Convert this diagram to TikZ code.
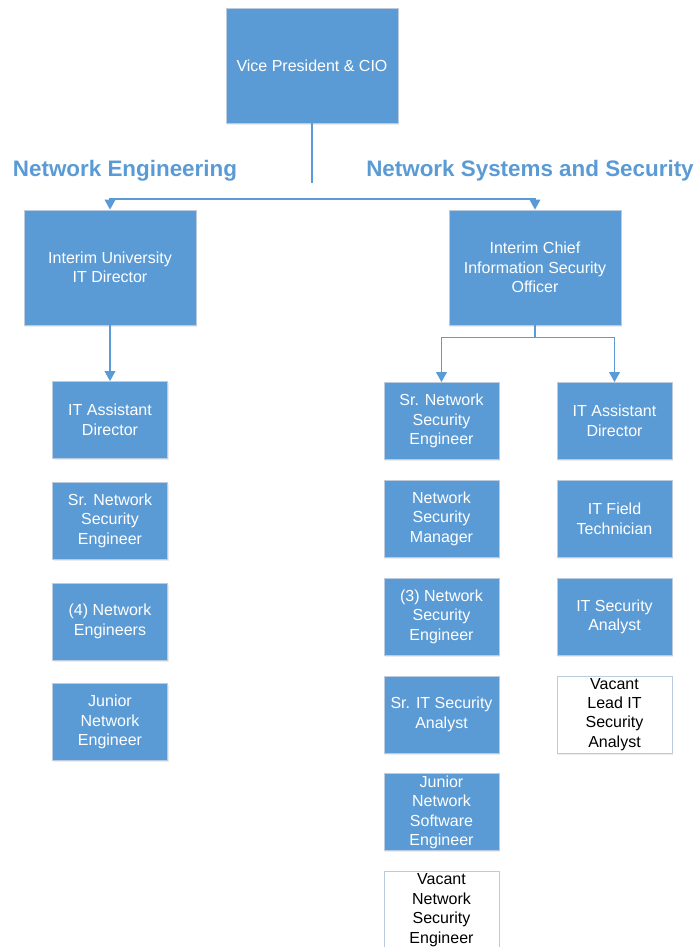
\documentclass[tikz,border=0pt]{standalone}
\usepackage{fontspec}
\setmainfont{Liberation Sans}
\usetikzlibrary{arrows.meta,positioning,shadows}
\definecolor{orgblue}{RGB}{91,155,213}
\definecolor{orgedge}{RGB}{188,203,222}

\begin{document}
\begin{tikzpicture}[x=0.75pt, y=-0.75pt,
    role/.style={rectangle, draw=orgedge, fill=orgblue, text=white, line width=0.6pt,
        minimum width=86.25pt, minimum height=57.75pt, inner sep=1pt,
        align=center, font=\fontsize{12}{14.6}\selectfont,
        drop shadow={opacity=0.15, shadow xshift=1pt, shadow yshift=-1.2pt}},
    head/.style={role, minimum width=129pt, minimum height=86.25pt},
    vacant/.style={role, fill=white, text=black},
    section/.style={text=orgblue, font=\fontsize{16.8}{20}\selectfont\bfseries},
    arrow/.style={-{Triangle[length=7.5pt, width=8pt]}, line width=1.1pt, draw=orgblue},
    link/.style={line width=1.1pt, draw=orgblue}]
\fill[white] (0,0) rectangle (699,947);
\clip (0,0) rectangle (699,947);

\node[head] (vp)    at (312,65.5)  {Vice President \& CIO};
\node[section] (neteng) at (125,171) {Network Engineering};
\node[section] (netsys) at (530,171) {Network Systems and Security};
\node[head] (itdir) at (110,267.5) {Interim University\\IT Director};
\node[head] (ciso)  at (535,267.5) {Interim Chief\\Information Security\\Officer};

% network engineering column
\node[role] (ne1) at (110,420) {IT Assistant\\Director};
\node[role, below=17.2pt of ne1] (ne2) {Sr. Network\\Security\\Engineer};
\node[role, below=17.2pt of ne2] (ne3) {(4) Network\\Engineers};
\node[role, below=17.2pt of ne3] (ne4) {Junior\\Network\\Engineer};

% network security column
\node[role] (ns1) at (441.5,421) {Sr. Network\\Security\\Engineer};
\node[role, below=15pt of ns1] (ns2) {Network\\Security\\Manager};
\node[role, below=15pt of ns2] (ns3) {(3) Network\\Security\\Engineer};
\node[role, below=15pt of ns3] (ns4) {Sr. IT Security\\Analyst};
\node[role, below=15pt of ns4] (ns5) {Junior\\Network\\Software\\Engineer};
\node[vacant, below=15pt of ns5] (ns6) {Vacant\\Network\\Security\\Engineer};

% security analysts column
\node[role] (sa1) at (614.5,421) {IT Assistant\\Director};
\node[role, below=15pt of sa1] (sa2) {IT Field\\Technician};
\node[role, below=15pt of sa2] (sa3) {IT Security\\Analyst};
\node[vacant, below=15pt of sa3] (sa4) {Vacant\\Lead IT\\Security\\Analyst};

\coordinate[below=45pt of vp.south] (vpfoot);
\coordinate (split) at (312,199);
\coordinate[below=9pt of ciso.south] (cisofork);

\draw[link] (vp.south) -- (vpfoot);
\draw[arrow] (split) -| (itdir.north);
\draw[arrow] (split) -| (ciso.north);
\draw[arrow] (itdir) -- (ne1);
\draw[link] (ciso.south) -- (cisofork);
\draw[arrow] (cisofork) -| (ns1.north);
\draw[arrow] (cisofork) -| (sa1.north);
\end{tikzpicture}
\end{document}
